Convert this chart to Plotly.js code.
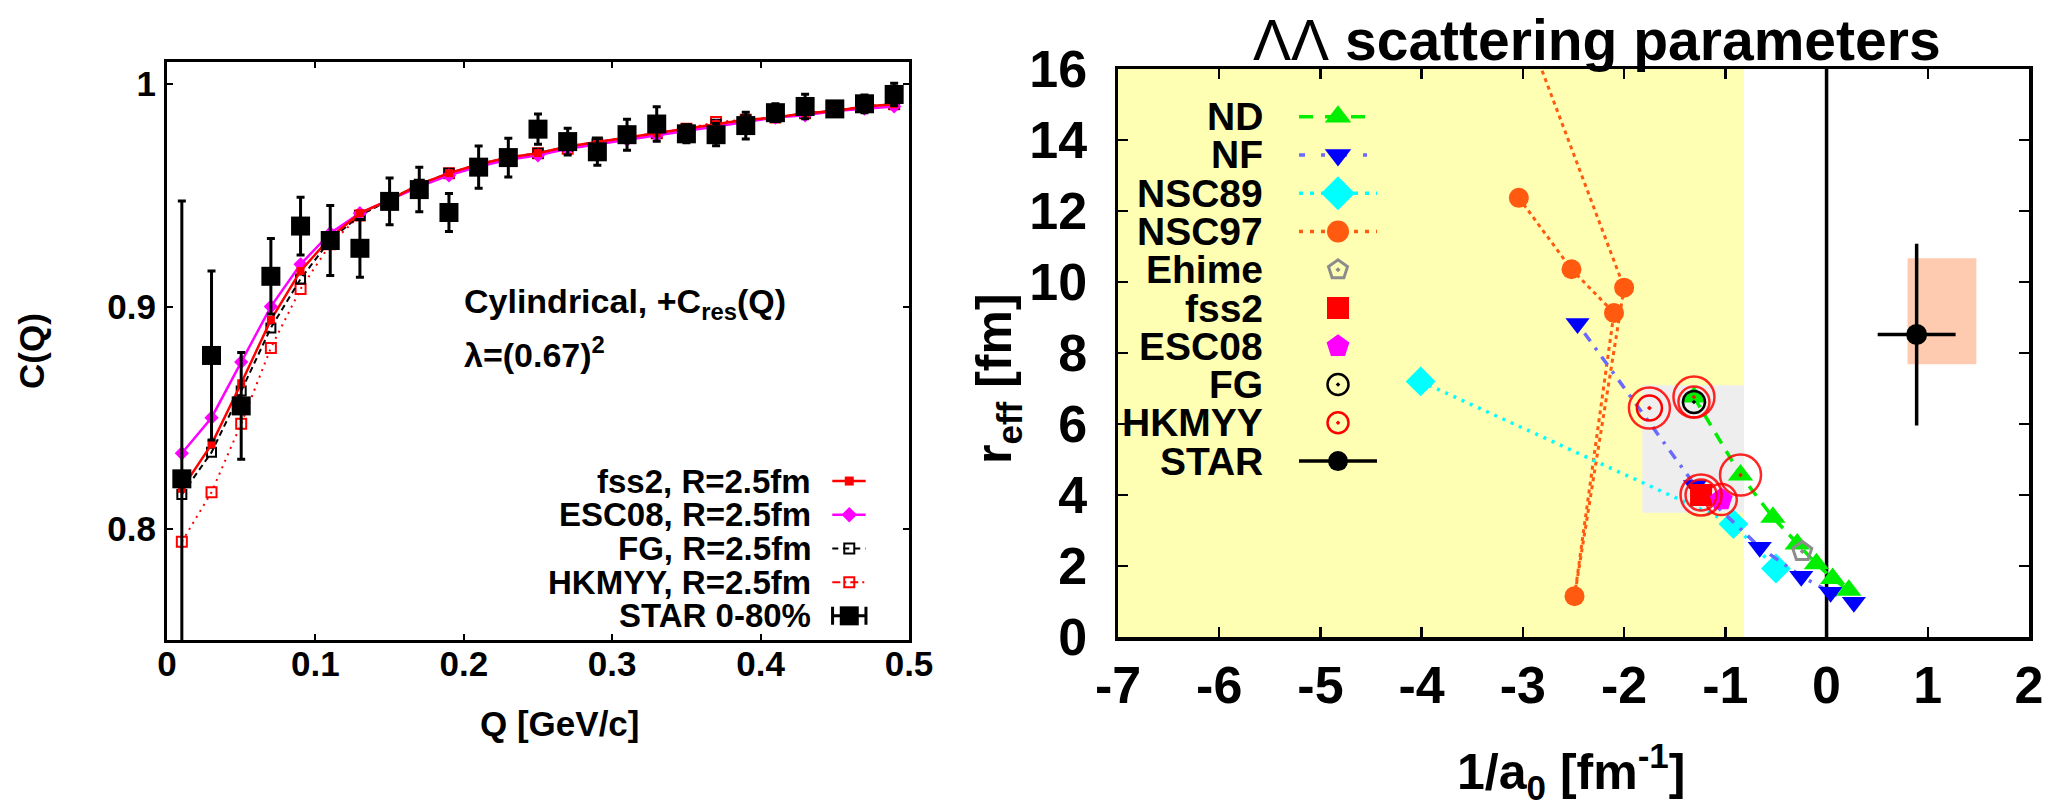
<!DOCTYPE html>
<html>
<head>
<meta charset="utf-8">
<script src="https://cdn.plot.ly/plotly-3.0.1.min.js"></script>
<style>
  html, body { margin: 0; padding: 0; background: #ffffff; }
  #chart { width: 2051px; height: 805px; }
</style>
</head>
<body>
<div id="chart"></div>
<script>
// ---------- Left panel: Lambda-Lambda correlation C(Q) ----------
const qGeV = [0.01, 0.03, 0.05, 0.07, 0.09, 0.11, 0.13, 0.15, 0.17, 0.19, 0.21, 0.23, 0.25,
              0.27, 0.29, 0.31, 0.33, 0.35, 0.37, 0.39, 0.41, 0.43, 0.45, 0.47, 0.49];
const starC = [0.8225, 0.878, 0.8553, 0.9136, 0.9362, 0.9297, 0.9262, 0.9473, 0.9526, 0.9423,
               0.9627, 0.967, 0.9798, 0.9742, 0.9696, 0.9773, 0.9821, 0.9777, 0.9773, 0.9814,
               0.9872, 0.990, 0.9889, 0.9912, 0.9954];
const starCErr = [0.125, 0.038, 0.024, 0.017, 0.013, 0.0157, 0.013, 0.0105, 0.010, 0.0085,
                  0.0095, 0.0087, 0.0068, 0.006, 0.006, 0.007, 0.0078, 0.004, 0.005, 0.006,
                  0.004, 0.0055, 0.003, 0.004, 0.005];
const cFss2 = [0.818, 0.838, 0.8655, 0.894, 0.916, 0.931, 0.942, 0.948, 0.955, 0.960, 0.964, 0.967,
               0.969, 0.972, 0.974, 0.976, 0.978, 0.980, 0.982, 0.984, 0.985, 0.987, 0.988, 0.990, 0.991];
const cEsc08 = [0.834, 0.850, 0.875, 0.900, 0.919, 0.933, 0.942, 0.948, 0.954, 0.959, 0.963, 0.966,
                0.968, 0.971, 0.973, 0.975, 0.977, 0.979, 0.981, 0.983, 0.985, 0.986, 0.988, 0.989, 0.990];
const cFG = [0.8155, 0.8344, 0.862, 0.8904, 0.9124, 0.930, 0.941, 0.948, 0.955, 0.960, 0.964, 0.967,
             0.969, 0.972, 0.974, 0.976, 0.978, 0.980, 0.982, 0.984, 0.985, 0.987, 0.988, 0.990, 0.991];
const cHkmyy = [0.7942, 0.8165, 0.8473, 0.8814, 0.9079, 0.928, 0.941, 0.948, 0.954, 0.960, 0.964, 0.967,
                0.969, 0.971, 0.973, 0.976, 0.978, 0.980, 0.983, 0.984, 0.985, 0.987, 0.988, 0.990, 0.991];
const qTickVals = [0, 0.1, 0.2, 0.3, 0.4, 0.5];
const qTickText = ['0', '0.1', '0.2', '0.3', '0.4', '0.5'];
const cTickVals = [0.8, 0.9, 1];
const cTickText = ['0.8', '0.9', '1'];
const leftLegendText = ['fss2, R=2.5fm', 'ESC08, R=2.5fm', 'FG, R=2.5fm', 'HKMYY, R=2.5fm', 'STAR 0-80%'];

// ---------- Right panel: scattering parameters (1/a0, r_eff) ----------
const ndInvA = [-1.31, -0.85, -0.53, -0.29, -0.10, 0.06, 0.22];
const ndReff = [6.76, 4.56, 3.37, 2.62, 2.06, 1.65, 1.32];
const nfInvA = [0.27, 0.04, -0.25, -0.66, -1.30, -2.46];
const nfReff = [0.98, 1.26, 1.71, 2.53, 4.27, 8.83];
const nsc89InvA = [-4.01, -0.92, -0.50];
const nsc89Reff = [7.20, 3.18, 1.93];
const nsc97InvA = [-3.04, -2.52, -2.10, -2.49, -2.00, -2.86];
const nsc97Reff = [12.37, 10.36, 9.13, 1.15, 9.84, 16.33];
const ehimeInvA = [-0.24];  const ehimeReff = [2.41];
const fss2InvA = [-1.24];   const fss2Reff = [4.00];
const esc08InvA = [-1.04];  const esc08Reff = [3.87];
const fgInvA = [-1.31];     const fgReff = [6.62];
const hkmyyInvA = [-1.75];  const hkmyyReff = [6.45];
const starInvA = [0.89];    const starInvAErr = [0.385];
const starReff = [8.52];    const starReffErr = [2.56];
const starSysInvA = [0.80, 1.48];
const starSysReff = [7.68, 10.67];
const yellowInvA = [-7, -0.815];
const grayInvA = [-1.82, -0.815];
const grayReff = [3.50, 7.09];
const invATickVals = [-7, -6, -5, -4, -3, -2, -1, 0, 1, 2];
const invATickText = ['-7', '-6', '-5', '-4', '-3', '-2', '-1', '0', '1', '2'];
const reffTickVals = [0, 2, 4, 6, 8, 10, 12, 14, 16];
const reffTickText = ['0', '2', '4', '6', '8', '10', '12', '14', '16'];
const rightLegendText = ['ND', 'NF', 'NSC89', 'NSC97', 'Ehime', 'fss2', 'ESC08', 'FG', 'HKMYY', 'STAR'];

// ---------- styling ----------
const FONT = 'Liberation Sans, Arial, sans-serif';
const C_ND = '#00ee00', C_NF = '#0000ff', C_NFLINE = '#6a6aff', C_N89 = '#00ffff',
      C_N97 = '#ff5a10', C_EHIME = '#8c8c8c';

const traces = [];

// Left panel model curves
traces.push({ x: qGeV, y: cHkmyy, xaxis: 'x', yaxis: 'y', mode: 'lines+markers', hoverinfo: 'skip',
  line: { color: 'red', width: 2, dash: '2px,5px' },
  marker: { symbol: 'square-open', size: 10, color: 'red', line: { width: 2 } } });
traces.push({ x: qGeV, y: cFG, xaxis: 'x', yaxis: 'y', mode: 'lines+markers', hoverinfo: 'skip',
  line: { color: 'black', width: 2, dash: '6px,4px' },
  marker: { symbol: 'square-open', size: 9, color: 'black', line: { width: 2 } } });
traces.push({ x: qGeV, y: cEsc08, xaxis: 'x', yaxis: 'y', mode: 'lines+markers', hoverinfo: 'skip',
  line: { color: '#ff00ff', width: 2.5 },
  marker: { symbol: 'diamond', size: 11, color: '#ff00ff' } });
traces.push({ x: qGeV, y: cFss2, xaxis: 'x', yaxis: 'y', mode: 'lines+markers', hoverinfo: 'skip',
  line: { color: 'red', width: 2.5 },
  marker: { symbol: 'square', size: 8, color: 'red' } });
// STAR data
traces.push({ x: qGeV, y: starC, xaxis: 'x', yaxis: 'y', mode: 'markers', hoverinfo: 'skip',
  marker: { symbol: 'square', size: 19, color: 'black' },
  error_y: { type: 'data', array: starCErr, color: 'black', thickness: 3, width: 4 } });

// Right panel model points
traces.push({ x: nsc97InvA, y: nsc97Reff, xaxis: 'x2', yaxis: 'y2', mode: 'lines+markers', hoverinfo: 'skip',
  line: { color: C_N97, width: 3, dash: '4px,4px' },
  marker: { symbol: 'circle', size: 20, color: C_N97 } });
traces.push({ x: nsc89InvA, y: nsc89Reff, xaxis: 'x2', yaxis: 'y2', mode: 'lines+markers', hoverinfo: 'skip',
  line: { color: C_N89, width: 3.5, dash: '3px,6px' },
  marker: { symbol: 'diamond', size: 23, color: C_N89 } });
traces.push({ x: nfInvA, y: nfReff, xaxis: 'x2', yaxis: 'y2', mode: 'lines', hoverinfo: 'skip',
  line: { color: C_NFLINE, width: 3.5, dash: '10px,8px,3px,8px' } });
traces.push({ x: nfInvA, y: nfReff, xaxis: 'x2', yaxis: 'y2', mode: 'markers', hoverinfo: 'skip',
  marker: { symbol: 'triangle-down', size: 21, color: C_NF } });
traces.push({ x: ndInvA, y: ndReff, xaxis: 'x2', yaxis: 'y2', mode: 'lines+markers', hoverinfo: 'skip',
  line: { color: C_ND, width: 3.5, dash: '12px,9px' },
  marker: { symbol: 'triangle-up', size: 22, color: C_ND } });
traces.push({ x: ehimeInvA, y: ehimeReff, xaxis: 'x2', yaxis: 'y2', mode: 'markers', hoverinfo: 'skip',
  marker: { symbol: 'pentagon-open-dot', size: 20, color: C_EHIME, line: { width: 3 } } });
traces.push({ x: fss2InvA, y: fss2Reff, xaxis: 'x2', yaxis: 'y2', mode: 'markers', hoverinfo: 'skip',
  marker: { symbol: 'square', size: 22, color: 'red' } });
traces.push({ x: esc08InvA, y: esc08Reff, xaxis: 'x2', yaxis: 'y2', mode: 'markers', hoverinfo: 'skip',
  marker: { symbol: 'pentagon', size: 24, color: '#ff00ff' } });
traces.push({ x: fgInvA, y: fgReff, xaxis: 'x2', yaxis: 'y2', mode: 'markers', hoverinfo: 'skip',
  marker: { symbol: 'circle-open-dot', size: 22, color: 'black', line: { width: 2.5 } } });
traces.push({ x: hkmyyInvA, y: hkmyyReff, xaxis: 'x2', yaxis: 'y2', mode: 'markers', hoverinfo: 'skip',
  marker: { symbol: 'circle-open-dot', size: 25, color: 'red', line: { width: 2.5 } } });
// rings around the models that reproduce the correlation data
const ringLargeX = [hkmyyInvA[0], ndInvA[0], ndInvA[1], fss2InvA[0]];
const ringLargeY = [hkmyyReff[0], ndReff[0], ndReff[1], fss2Reff[0]];
const ringSmallX = [fgInvA[0], fss2InvA[0], esc08InvA[0]];
const ringSmallY = [fgReff[0], fss2Reff[0], esc08Reff[0]];
traces.push({ x: ringLargeX, y: ringLargeY, xaxis: 'x2', yaxis: 'y2', mode: 'markers', hoverinfo: 'skip',
  marker: { symbol: 'circle-open-dot', size: 41, color: 'rgba(255,0,0,0.85)', line: { width: 2.5 } } });
traces.push({ x: ringSmallX, y: ringSmallY, xaxis: 'x2', yaxis: 'y2', mode: 'markers', hoverinfo: 'skip',
  marker: { symbol: 'circle-open', size: 31, color: 'rgba(255,0,0,0.85)', line: { width: 2.5 } } });
// STAR measurement
traces.push({ x: starInvA, y: starReff, xaxis: 'x2', yaxis: 'y2', mode: 'markers', hoverinfo: 'skip',
  marker: { symbol: 'circle', size: 21, color: 'black' },
  error_x: { type: 'data', array: starInvAErr, color: 'black', thickness: 3.5, width: 0 },
  error_y: { type: 'data', array: starReffErr, color: 'black', thickness: 3.5, width: 0 } });

// ---------- keys (drawn on overlay axes spanning 0..1 of each panel) ----------
const annotations = [];
const leftKey = { textX: 0.871, lineX: [0.8966, 0.9416], markX: 0.9195, top: 0.275, step: 0.0583 };
const leftKeyStyle = [
  { line: { color: 'red', width: 2.5 }, marker: { symbol: 'square', size: 9, color: 'red' } },
  { line: { color: '#ff00ff', width: 2.5 }, marker: { symbol: 'diamond', size: 12, color: '#ff00ff' } },
  { line: { color: 'black', width: 2, dash: '6px,5px' }, marker: { symbol: 'square-open', size: 10, color: 'black', line: { width: 2 } } },
  { line: { color: 'red', width: 2, dash: '8px,4px,2px,4px' }, marker: { symbol: 'square-open', size: 10, color: 'red', line: { width: 2 } } },
  { star: true }
];
leftLegendText.forEach((t, i) => {
  const yy = leftKey.top - i * leftKey.step;
  annotations.push({ xref: 'x domain', yref: 'y domain', x: leftKey.textX, y: yy, text: '<b>' + t + '</b>',
    showarrow: false, xanchor: 'right', yanchor: 'middle', height: 33, valign: 'middle',
    font: { family: FONT, size: 33, color: 'black' } });
  const st = leftKeyStyle[i];
  if (st.star) {
    traces.push({ x: [leftKey.markX], y: [yy], xaxis: 'x3', yaxis: 'y3', mode: 'markers', hoverinfo: 'skip',
      marker: { symbol: 'square', size: 19, color: 'black' },
      error_x: { type: 'data', array: [(leftKey.lineX[1] - leftKey.lineX[0]) / 2], color: 'black', thickness: 3, width: 9 } });
  } else {
    traces.push({ x: leftKey.lineX, y: [yy, yy], xaxis: 'x3', yaxis: 'y3', mode: 'lines', hoverinfo: 'skip', line: st.line });
    traces.push({ x: [leftKey.markX], y: [yy], xaxis: 'x3', yaxis: 'y3', mode: 'markers', hoverinfo: 'skip', marker: st.marker });
  }
});

const rightKey = { textX: 0.1614, lineX: [0.1987, 0.2843], markX: 0.2415, top: 0.916, step: 0.06736 };
const rightKeyStyle = [
  { line: { color: C_ND, width: 3.5, dash: '14px,12px' }, marker: { symbol: 'triangle-up', size: 23, color: C_ND } },
  { line: { color: C_NFLINE, width: 3.5, dash: '6px,16px,4px,16px' }, marker: { symbol: 'triangle-down', size: 23, color: C_NF } },
  { line: { color: C_N89, width: 3.5, dash: '4px,7px' }, marker: { symbol: 'diamond', size: 26, color: C_N89 } },
  { line: { color: C_N97, width: 3.5, dash: '4px,7px' }, marker: { symbol: 'circle', size: 22, color: C_N97 } },
  { marker: { symbol: 'pentagon-open-dot', size: 20, color: C_EHIME, line: { width: 3 } } },
  { marker: { symbol: 'square', size: 22, color: 'red' } },
  { marker: { symbol: 'pentagon', size: 24, color: '#ff00ff' } },
  { marker: { symbol: 'circle-open-dot', size: 21, color: 'black', line: { width: 2.5 } } },
  { marker: { symbol: 'circle-open-dot', size: 21, color: 'red', line: { width: 2.5 } } },
  { line: { color: 'black', width: 3.5 }, marker: { symbol: 'circle', size: 20, color: 'black' } }
];
rightLegendText.forEach((t, i) => {
  const yy = rightKey.top - i * rightKey.step;
  annotations.push({ xref: 'x2 domain', yref: 'y2 domain', x: rightKey.textX, y: yy, text: '<b>' + t + '</b>',
    showarrow: false, xanchor: 'right', yanchor: 'middle', height: 37, valign: 'middle',
    font: { family: FONT, size: 39, color: 'black' } });
  const st = rightKeyStyle[i];
  if (st.line) {
    traces.push({ x: rightKey.lineX, y: [yy, yy], xaxis: 'x4', yaxis: 'y4', mode: 'lines', hoverinfo: 'skip', line: st.line });
  }
  traces.push({ x: [rightKey.markX], y: [yy], xaxis: 'x4', yaxis: 'y4', mode: 'markers', hoverinfo: 'skip', marker: st.marker });
});

// ---------- text ----------
annotations.push(
  { xref: 'paper', yref: 'paper', x: 462 / 2051, y: 1 - 303 / 805, xanchor: 'left', yanchor: 'middle', showarrow: false,
    text: '<b>Cylindrical, +C<sub>res</sub>(Q)</b>', font: { family: FONT, size: 34, color: 'black' } },
  { xref: 'paper', yref: 'paper', x: 462 / 2051, y: 1 - 352 / 805, xanchor: 'left', yanchor: 'middle', showarrow: false,
    text: '<b>λ=(0.67)<sup>2</sup></b>', font: { family: FONT, size: 34, color: 'black' } },
  { xref: 'paper', yref: 'paper', x: 32 / 2051, y: 1 - 351 / 805, xanchor: 'center', yanchor: 'middle', showarrow: false,
    textangle: -90, text: '<b>C(Q)</b>', font: { family: FONT, size: 35, color: 'black' } },
  { xref: 'paper', yref: 'paper', x: 559 / 2051, y: 1 - 723 / 805, xanchor: 'center', yanchor: 'middle', showarrow: false,
    text: '<b>Q [GeV/c]</b>', font: { family: FONT, size: 35, color: 'black' } },
  { xref: 'paper', yref: 'paper', x: 1597 / 2051, y: 1 - 40 / 805, xanchor: 'center', yanchor: 'middle', showarrow: false,
    text: '<span style="font-weight:normal">ΛΛ</span><b> scattering parameters</b>', font: { family: FONT, size: 57, color: 'black' } },
  { xref: 'paper', yref: 'paper', x: 997 / 2051, y: 1 - 379 / 805, xanchor: 'center', yanchor: 'middle', showarrow: false,
    textangle: -90, text: '<b>r<sub>eff</sub> [fm]</b>', font: { family: FONT, size: 50, color: 'black' } },
  { xref: 'paper', yref: 'paper', x: 1571 / 2051, y: 1 - 771 / 805, xanchor: 'center', yanchor: 'middle', showarrow: false,
    text: '<b>1/a<sub>0</sub> [fm<sup>-1</sup>]</b>', font: { family: FONT, size: 50, color: 'black' } }
);

// ---------- shaded regions ----------
const shapes = [
  { type: 'rect', xref: 'x2', yref: 'y2 domain', x0: yellowInvA[0], x1: yellowInvA[1], y0: 0, y1: 1,
    fillcolor: '#ffffb4', line: { width: 0 }, layer: 'below' },
  { type: 'rect', xref: 'x2', yref: 'y2', x0: grayInvA[0], x1: grayInvA[1], y0: grayReff[0], y1: grayReff[1],
    fillcolor: '#eeeeee', line: { width: 0 }, layer: 'below' },
  { type: 'line', xref: 'x2', yref: 'y2 domain', x0: 0, x1: 0, y0: 0, y1: 1,
    line: { color: 'black', width: 3.5 }, layer: 'below' },
  { type: 'rect', xref: 'x2', yref: 'y2', x0: starSysInvA[0], x1: starSysInvA[1], y0: starSysReff[0], y1: starSysReff[1],
    fillcolor: '#ffcbb0', line: { width: 0 }, layer: 'below' }
];

const axBase = { showgrid: false, zeroline: false, showline: true, linecolor: 'black', mirror: 'allticks',
  ticks: 'inside', tickcolor: 'black', fixedrange: true };
const leftTickFont = { family: FONT, size: 35, color: 'black', weight: 'bold' };
const rightTickFont = { family: FONT, size: 52, color: 'black', weight: 'bold' };

const layout = {
  width: 2051, height: 805, margin: { l: 0, r: 0, t: 0, b: 0 },
  paper_bgcolor: '#ffffff', plot_bgcolor: '#ffffff', showlegend: false,
  xaxis: Object.assign({}, axBase, { domain: [167 / 2051, 909 / 2051], range: [0, 0.5], anchor: 'y',
    tickvals: qTickVals, ticktext: qTickText, ticklen: 6, tickwidth: 2, linewidth: 3,
    tickfont: leftTickFont, ticklabelstandoff: -9 }),
  yaxis: Object.assign({}, axBase, { domain: [1 - 640 / 805, 1 - 62 / 805], range: [0.75, 1.01], anchor: 'x',
    tickvals: cTickVals, ticktext: cTickText, ticklen: 6, tickwidth: 2, linewidth: 3,
    tickfont: leftTickFont, ticklabelstandoff: 1 }),
  xaxis2: Object.assign({}, axBase, { domain: [1118 / 2051, 2029 / 2051], range: [-7, 2], anchor: 'y2',
    tickvals: invATickVals, ticktext: invATickText, ticklen: 10, tickwidth: 2.5, linewidth: 3.5,
    tickfont: rightTickFont, ticklabelstandoff: 0 }),
  yaxis2: Object.assign({}, axBase, { domain: [1 - 637 / 805, 1 - 69 / 805], range: [0, 16], anchor: 'x2',
    tickvals: reffTickVals, ticktext: reffTickText, ticklen: 10, tickwidth: 2.5, linewidth: 3.5,
    tickfont: rightTickFont, ticklabelstandoff: 17 }),
  xaxis3: { overlaying: 'x', anchor: 'y3', range: [0, 1], visible: false, fixedrange: true },
  yaxis3: { overlaying: 'y', anchor: 'x3', range: [0, 1], visible: false, fixedrange: true },
  xaxis4: { overlaying: 'x2', anchor: 'y4', range: [0, 1], visible: false, fixedrange: true },
  yaxis4: { overlaying: 'y2', anchor: 'x4', range: [0, 1], visible: false, fixedrange: true },
  shapes: shapes,
  annotations: annotations
};

Plotly.newPlot('chart', traces, layout, { staticPlot: true, displayModeBar: false });
</script>
</body>
</html>
